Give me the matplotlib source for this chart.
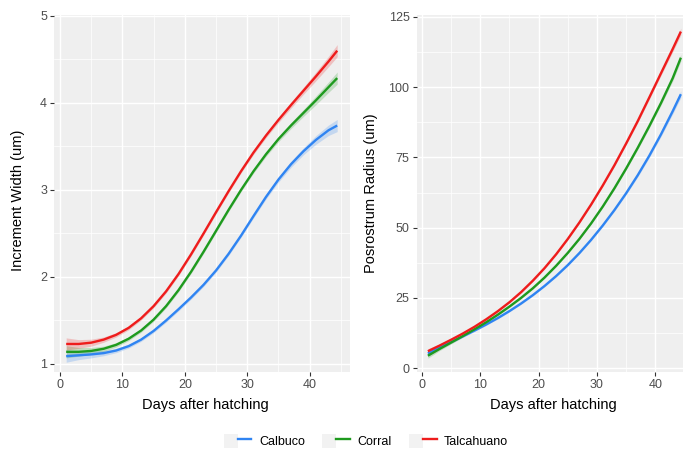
import matplotlib
matplotlib.use("Agg")
import matplotlib.pyplot as plt
from matplotlib.lines import Line2D
from matplotlib.patches import Rectangle
from matplotlib.legend_handler import HandlerTuple
import numpy as np

plt.rcParams['font.family'] = ['Liberation Sans', 'DejaVu Sans']

# Smoothed growth curves by locality
days = [1, 3, 5, 7, 9, 11, 13, 15, 17, 19, 21, 23, 25, 27, 29, 31, 33, 35, 37, 39, 41, 43, 44.4]
sites = ["Calbuco", "Corral", "Talcahuano"]
colors = ["#2F84F2", "#1E9A1E", "#EE1C1C"]

# Increment width (um)
width_calbuco = [1.09, 1.10, 1.11, 1.125, 1.155, 1.205, 1.28, 1.38, 1.50, 1.63, 1.765, 1.91,
                 2.075, 2.265, 2.475, 2.70, 2.92, 3.12, 3.295, 3.445, 3.575, 3.685, 3.74]
width_corral = [1.14, 1.14, 1.15, 1.175, 1.22, 1.29, 1.385, 1.51, 1.665, 1.85, 2.06, 2.29,
                2.53, 2.77, 3.00, 3.215, 3.41, 3.585, 3.74, 3.885, 4.03, 4.18, 4.285]
width_talcahuano = [1.23, 1.23, 1.245, 1.28, 1.335, 1.415, 1.525, 1.665, 1.835, 2.035, 2.26, 2.50,
                    2.745, 2.985, 3.215, 3.43, 3.625, 3.805, 3.975, 4.14, 4.305, 4.475, 4.60]
# Half-width of the confidence band for increment width
width_band = [0.07, 0.05, 0.04, 0.03, 0.025, 0.022, 0.02, 0.02, 0.02, 0.02, 0.02, 0.02,
              0.02, 0.02, 0.02, 0.022, 0.025, 0.03, 0.035, 0.04, 0.05, 0.06, 0.07]

# Posrostrum radius (um)
radius_calbuco = [5.2, 7.3, 9.3, 11.3, 13.35, 15.5, 17.8, 20.3, 23.0, 25.95, 29.2, 32.75,
                  36.65, 40.95, 45.65, 50.75, 56.25, 62.2, 68.65, 75.65, 83.25, 91.45, 97.5]
radius_corral = [4.4, 6.8, 9.1, 11.4, 13.8, 16.3, 19.0, 21.9, 25.0, 28.4, 32.2, 36.4,
                 41.0, 46.0, 51.5, 57.5, 64.0, 71.0, 78.4, 86.2, 94.4, 103.2, 110.5]
radius_talcahuano = [6.0, 8.0, 10.1, 12.3, 14.7, 17.35, 20.25, 23.45, 27.05, 31.1, 35.55, 40.5,
                     45.95, 51.85, 58.2, 65.0, 72.2, 79.9, 87.9, 96.4, 105.0, 113.6, 119.8]
radius_band = [0.9, 0.6, 0.5, 0.4, 0.35, 0.3, 0.3, 0.3, 0.3, 0.3, 0.3, 0.3,
               0.3, 0.3, 0.35, 0.4, 0.45, 0.5, 0.6, 0.7, 0.8, 1.0, 1.2]

width_series = [width_calbuco, width_corral, width_talcahuano]
radius_series = [radius_calbuco, radius_corral, radius_talcahuano]

W, H = 683, 450
fig = plt.figure(figsize=(W / 100, H / 100), dpi=100)
fig.patch.set_facecolor("white")

ax1 = fig.add_axes([54 / W, 1 - 372 / H, 296 / W, 357 / H])
ax2 = fig.add_axes([416.5 / W, 1 - 372 / H, 276.3 / W, 357 / H])


def style(ax, yticks, yminor):
    ax.set_facecolor("#EFEFEF")
    for s in ax.spines.values():
        s.set_visible(False)
    ax.set_xticks([0, 10, 20, 30, 40])
    ax.set_xticks([5, 15, 25, 35, 45], minor=True)
    ax.set_yticks(yticks)
    ax.set_yticks(yminor, minor=True)
    ax.grid(which="major", color="white", linewidth=1.0)
    ax.grid(which="minor", color="white", linewidth=0.5)
    ax.set_axisbelow(True)
    ax.tick_params(which="major", length=3, width=0.8, color="#333333",
                   labelcolor="#4D4D4D", labelsize=9, pad=2)
    ax.tick_params(which="minor", length=0)


d = np.array(days)
for vals, col in zip(width_series, colors):
    v = np.array(vals)
    b = np.array(width_band)
    ax1.fill_between(d, v - b, v + b, color=col, alpha=0.22, linewidth=0)
    ax1.plot(d, v, color=col, linewidth=1.7, solid_capstyle="butt", solid_joinstyle="round")

for vals, col in zip(radius_series, colors):
    v = np.array(vals)
    b = np.array(radius_band)
    ax2.fill_between(d, v - b, v + b, color=col, alpha=0.22, linewidth=0)
    ax2.plot(d, v, color=col, linewidth=1.7, solid_capstyle="butt", solid_joinstyle="round")

style(ax1, [1, 2, 3, 4, 5], [1.5, 2.5, 3.5, 4.5])
style(ax2, [0, 25, 50, 75, 100, 125], [12.5, 37.5, 62.5, 87.5, 112.5])

ax1.set_xlim(-0.95, 46.45)
ax1.set_ylim(0.908, 5.01)
ax2.set_xlim(-0.95, 46.45)
ax2.set_ylim(-1.4, 125.7)

ax1.set_xlabel("Days after hatching", fontsize=10.5, color="black")
ax1.set_ylabel("Increment Width (um)", fontsize=10.5, color="black")
ax2.set_xlabel("Days after hatching", fontsize=10.5, color="black")
ax2.set_ylabel("Posrostrum Radius (um)", fontsize=10.5, color="black")
ax1.xaxis.set_label_coords((205 - 54) / 296, -(398 - 372) / 357)
ax2.xaxis.set_label_coords((553 - 416.5) / 276.3, -(398 - 372) / 357)
ax1.yaxis.set_label_coords(-(54 - 25) / 296, 0.5 + (193.5 - 200) / 357)
ax2.yaxis.set_label_coords(-(416.5 - 378) / 276.3, 0.5)

handles = []
for col in colors:
    key_bg = Rectangle((0, 0), 1, 1, facecolor="#F2F2F2", edgecolor="none")
    handles.append((key_bg, Line2D([], [], color=col, linewidth=1.7)))
fig.legend(handles, sites, loc="center", bbox_to_anchor=(366 / W, 1 - 441 / H),
           ncol=3, frameon=False, fontsize=9, handlelength=2.2, handleheight=1.4,
           columnspacing=1.4, handletextpad=0.6,
           handler_map={tuple: HandlerTuple(ndivide=None, pad=0)})

fig.savefig("out.png", dpi=100)
